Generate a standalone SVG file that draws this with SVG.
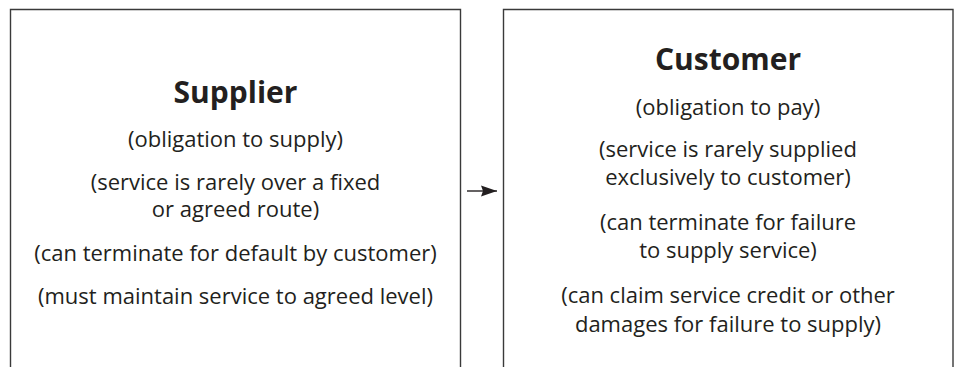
<svg xmlns="http://www.w3.org/2000/svg" width="959" height="367" viewBox="0 0 959 367">
<style>
.box{fill:none;stroke:#3a3a3a;stroke-width:1.4}
.t{font-family:"Open Sans","Noto Sans","Liberation Sans",sans-serif;fill:#231f20;text-anchor:middle;font-size:22px}
.h{font-weight:bold;font-size:30px}
.conn{stroke:#231f20;stroke-width:1.4;fill:none}
</style>
<defs>
<marker id="arr" markerWidth="17" markerHeight="12" refX="16" refY="6" orient="auto" markerUnits="userSpaceOnUse">
<path d="M0,0.5 L16,6 L0,11.5 L2,6 Z" fill="#231f20"/>
</marker>
</defs>
<rect width="959" height="367" fill="#fff"/>
<g id="supplier">
<path class="box" d="M10.5,380 V9.5 H460.5 V380"/>
<text class="t h" x="235.5" y="103">Supplier</text>
<text class="t" x="235.5" y="147">(obligation to supply)</text>
<text class="t" x="235.5" y="190">(service is rarely over a fixed<tspan x="235.5" dy="27">or agreed route)</tspan></text>
<text class="t" x="235.5" y="261">(can terminate for default by customer)</text>
<text class="t" x="235.5" y="304">(must maintain service to agreed level)</text>
</g>
<g id="customer">
<path class="box" d="M503.5,380 V9.5 H953 V380"/>
<text class="t h" x="728" y="70">Customer</text>
<text class="t" x="728" y="115">(obligation to pay)</text>
<text class="t" x="728" y="157">(service is rarely supplied<tspan x="728" dy="28">exclusively to customer)</tspan></text>
<text class="t" x="728" y="230">(can terminate for failure<tspan x="728" dy="28">to supply service)</tspan></text>
<text class="t" x="728" y="303">(can claim service credit or other<tspan x="728" dy="28.5">damages for failure to supply)</tspan></text>
</g>
<g id="connectors">
<line class="conn" x1="467" y1="191" x2="497" y2="191" marker-end="url(#arr)"/>
</g>
</svg>
